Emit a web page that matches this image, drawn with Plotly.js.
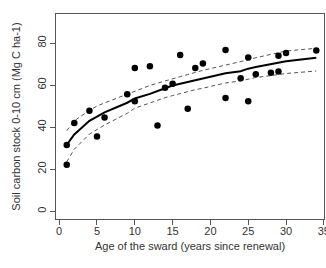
<!DOCTYPE html>
<html>
<head>
<meta charset="utf-8">
<script src="https://cdn.plot.ly/plotly-3.0.1.min.js"></script>
<style>html,body{margin:0;padding:0;background:#fff;}#chart{width:326px;height:268px;}</style>
</head>
<body>
<div id="chart"></div>
<script>
// Observed points: age of sward (years) and soil carbon stock (Mg C ha-1)
var ageObs = [1, 1, 2, 4, 5, 6, 9, 10, 10, 12, 13, 14, 15, 16, 17, 18, 19, 22, 22, 24, 25, 25, 26, 28, 29, 29, 30, 34];
var carbonObs = [31.5, 22.1, 42.0, 47.8, 35.5, 44.6, 55.6, 68.1, 52.3, 68.9, 40.8, 58.7, 60.6, 74.3, 48.7, 68.1, 70.3, 76.7, 53.8, 63.2, 73.1, 52.3, 65.1, 65.8, 74.0, 66.4, 75.2, 76.4];

// Fitted curve and confidence band read at the observed ages
var ageFit = [1, 2, 4, 5, 6, 9, 10, 12, 13, 14, 15, 16, 17, 18, 19, 22, 24, 25, 26, 28, 29, 30, 34];
var fitMean = [31.6, 36.5, 43.0, 45.2, 47.0, 51.6, 53.6, 55.8, 57.0, 58.5, 59.8, 60.6, 61.3, 62.3, 63.1, 65.6, 66.6, 67.8, 68.6, 69.9, 70.6, 71.3, 73.0];
var fitUpper = [38.3, 43.0, 48.0, 50.0, 51.5, 55.8, 57.3, 59.8, 60.9, 62.0, 63.2, 64.0, 65.0, 66.0, 67.0, 69.5, 71.0, 72.0, 73.0, 74.5, 75.3, 76.2, 77.5];
var fitLower = [23.5, 29.5, 36.7, 39.0, 41.0, 46.6, 49.0, 51.5, 52.8, 54.0, 55.0, 56.0, 57.0, 57.8, 58.5, 61.0, 62.0, 62.8, 63.6, 64.5, 65.0, 65.5, 66.7];

var xTicks = [0, 5, 10, 15, 20, 25, 30, 35];
var yTicks = [0, 20, 40, 60, 80];

var font = {family: 'Liberation Sans, Arial, sans-serif', size: 11, color: '#333'};

var traces = [
  {x: ageFit, y: fitUpper, mode: 'lines', line: {color: '#555', width: 1, dash: '4px,3px'}, hoverinfo: 'skip'},
  {x: ageFit, y: fitLower, mode: 'lines', line: {color: '#555', width: 1, dash: '4px,3px'}, hoverinfo: 'skip'},
  {x: ageFit, y: fitMean, mode: 'lines', line: {color: '#000', width: 2}},
  {x: ageObs, y: carbonObs, mode: 'markers', marker: {color: '#000', size: 6.5}}
];

var layout = {
  width: 326, height: 268,
  margin: {l: 56, r: 2, t: 14, b: 49},
  paper_bgcolor: '#fff', plot_bgcolor: '#fff',
  showlegend: false,
  font: font,
  xaxis: {
    range: [-0.42, 35.02],
    tickvals: xTicks, ticktext: xTicks.map(String),
    ticklabeloverflow: 'allow',
    ticklabelstandoff: -3,
    ticks: 'outside', ticklen: 5, tickcolor: '#555', tickwidth: 1,
    showgrid: false, zeroline: false,
    showline: true, linecolor: '#555', linewidth: 1, mirror: true,
    tickfont: font,
    title: {text: 'Age of the sward (years since renewal)', font: font, standoff: 6}
  },
  yaxis: {
    range: [-3.7, 93.8],
    tickvals: yTicks, ticktext: yTicks.map(String),
    tickangle: -90,
    ticks: 'outside', ticklen: 5, tickcolor: '#555', tickwidth: 1,
    showgrid: false, zeroline: false,
    showline: true, linecolor: '#555', linewidth: 1, mirror: true,
    tickfont: font,
    title: {text: 'Soil carbon stock 0-10 cm (Mg C ha-1)', font: font, standoff: 12}
  }
};

Plotly.newPlot('chart', traces, layout, {displayModeBar: false, staticPlot: true});
</script>
</body>
</html>
